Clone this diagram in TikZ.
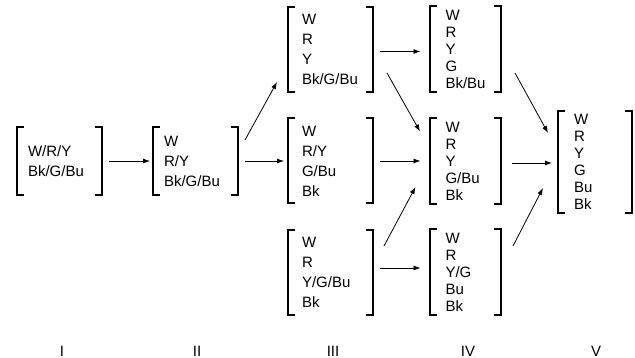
\documentclass[tikz,border=0pt]{standalone}
\usepackage{fontspec}
\setmainfont{Liberation Sans}
\usetikzlibrary{arrows.meta}

\begin{document}
\begin{tikzpicture}[
		x=1pt, y=-1pt,
		box/.style={rectangle, draw=none, outer sep=0pt, minimum width=85pt, minimum height=85pt, inner xsep=14pt, text width=57pt, align=left, font=\fontsize{15}{20}\selectfont},
		widebox/.style={box, minimum height=68pt, inner xsep=11pt, text width=63pt},
		narrowbox/.style={box, minimum width=71pt, minimum height=86pt, inner xsep=16pt, text width=39pt, font=\fontsize{15}{17}\selectfont},
		lastbox/.style={narrowbox, minimum width=74pt, minimum height=102pt, text width=42pt},
		bracket/.style={line width=2pt},
		arr/.style={-{Latex[length=7pt,width=5pt]}, line width=0.8pt},
		stage/.style={font=\fontsize{15}{17}\selectfont}
		]
		
		% Fix the page size
		\useasboundingbox (0,0) rectangle (635,358);
		
		% Stage I and II
		\node[widebox] (i) at (59.5,161) {W/R/Y\\Bk/G/Bu};
		\node[widebox] (ii) at (195.5,161) {W\\R/Y\\Bk/G/Bu};
		
		% Stage III
		\node[box] (iii-top) at (330.5,49.5) {W\\R\\Y\\Bk/G/Bu};
		\node[box] (iii-mid) at (330.5,161) {W\\R/Y\\G/Bu\\Bk};
		\node[box] (iii-bot) at (330.5,272.5) {W\\R\\Y/G/Bu\\Bk};
		
		% Stage IV
		\node[narrowbox] (iv-top) at (465,49.5) {W\\R\\Y\\G\\Bk/Bu};
		\node[narrowbox] (iv-mid) at (465,161) {W\\R\\Y\\G/Bu\\Bk};
		\node[narrowbox] (iv-bot) at (465,272.5) {W\\R\\Y/G\\Bu\\Bk};
		
		% Stage V
		\node[lastbox] (v) at (595,162) {W\\R\\Y\\G\\Bu\\Bk};
		
		% Brackets
		\foreach \n in {i,ii,iii-top,iii-mid,iii-bot,iv-top,iv-mid,iv-bot,v} {
			\draw[bracket] ([xshift=7pt]\n.north west) -| (\n.south west) -- ++(7,0);
			\draw[bracket] ([xshift=-7pt]\n.north east) -| (\n.south east) -- ++(-7,0);
		}
		
		% Arrows
		\draw[arr] ([xshift=7pt]i.east) -- ([xshift=-3pt]ii.west);
		\draw[arr] ([shift={(7,-21)}]ii.east) -- ([shift={(-11,-10)}]iii-top.south west);
		\draw[arr] ([xshift=7pt]ii.east) -- ([xshift=-4pt]iii-mid.west);
		\draw[arr] ([shift={(7,2)}]iii-top.east) -- ([shift={(-9,2)}]iv-top.west);
		\draw[arr] ([shift={(14,-19)}]iii-top.south east) -- ([shift={(-9.5,13.5)}]iv-mid.north west);
		\draw[arr] ([xshift=7pt]iii-mid.east) -- ([xshift=-9pt]iv-mid.west);
		\draw[arr] ([shift={(11,16)}]iii-bot.north east) -- ([shift={(-14,-17)}]iv-mid.south west);
		\draw[arr] ([shift={(7,-4.5)}]iii-bot.east) -- ([shift={(-9,-4.5)}]iv-bot.west);
		\draw[arr] ([shift={(14.5,-19.5)}]iv-top.south east) -- ([shift={(-10,22)}]v.north west);
		\draw[arr] ([shift={(11.5,2)}]iv-mid.east) -- ([shift={(-6,1)}]v.west);
		\draw[arr] ([shift={(12.5,16.5)}]iv-bot.north east) -- ([shift={(-15,-25)}]v.south west);
		
		% Stage labels
		\node[stage] (i-label) at (62,351) {I};
		\node[stage] (ii-label) at (197,351) {II};
		\node[stage] (iii-label) at (333,351) {III};
		\node[stage] (iv-label) at (468,351) {IV};
		\node[stage] (v-label) at (596,351) {V};
	\end{tikzpicture}
\end{document}
